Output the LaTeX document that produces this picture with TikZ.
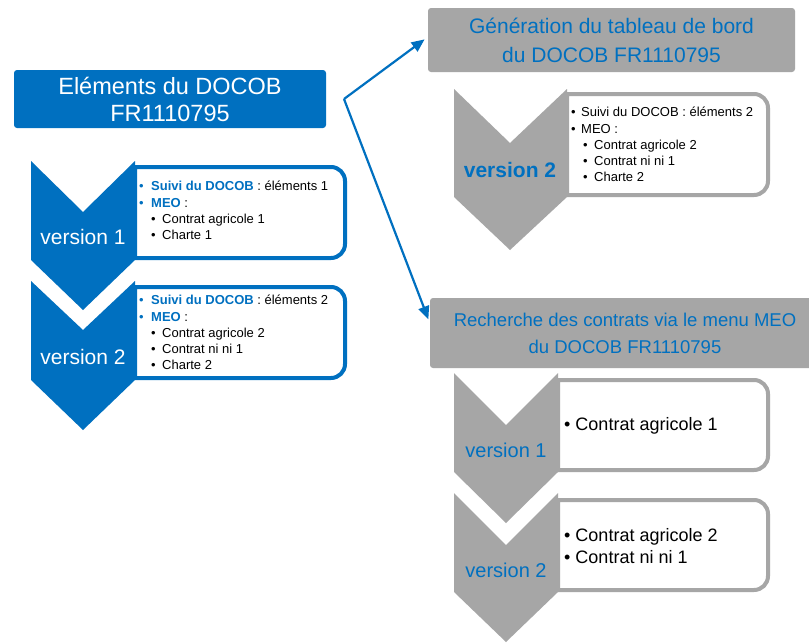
\documentclass[tikz,border=0pt]{standalone}
\usepackage{fontspec}
\setmainfont{Liberation Sans}
\usetikzlibrary{arrows.meta}
\definecolor{docblue}{HTML}{0070C0}
\definecolor{docgray}{HTML}{A6A6A6}
\newcommand{\myitemb}[1]{\makebox[12pt][l]{\textcolor{docblue}{•}}#1}
\newcommand{\myitemk}[1]{\makebox[10pt][l]{•}#1}
\newcommand{\mysubb}[1]{\hspace*{12pt}\makebox[11pt][l]{•}#1}
\newcommand{\mysubk}[1]{\hspace*{12pt}\makebox[11pt][l]{•}#1}
\begin{document}
\begin{tikzpicture}[x=1pt,y=-1pt,
  titlebox/.style={rounded corners=3pt, align=center, inner sep=0pt},
  bluetitle/.style={titlebox, fill=docblue, text=white, font=\fontsize{23.5}{27}\selectfont, minimum width=312pt, minimum height=58pt},
  graytitle/.style={titlebox, fill=docgray, text=docblue},
  listtext/.style={align=left, inner sep=0pt, font=\fontsize{13}{16.3}\selectfont},
  bigtext/.style={align=left, inner sep=0pt, font=\fontsize{18}{22.5}\selectfont},
  vwhite/.style={text=white, inner sep=0pt, font=\fontsize{21}{25}\selectfont},
  vblue/.style={text=docblue, inner sep=0pt, font=\fontsize{20}{24}\selectfont},
  bluecard/.style={draw=docblue, line width=4pt, fill=white},
  graycard/.style={draw=docgray, line width=4pt, fill=white},
  linkarrow/.style={draw=docblue, line width=2.2pt, -{Triangle[length=13pt,width=11pt]}, shorten >=4pt}
]
\clip (0,0) rectangle (809,643);
\fill[white] (0,0) rectangle (809,643);

% ---------- left column ----------
\node[bluetitle] (elem) at (170,99) {Eléments du DOCOB\\FR1110795};

\draw[bluecard] (135,167) [rounded corners=14pt] -- (345,167) -- (345,258) [sharp corners] -- (135,258) -- cycle;
\draw[bluecard] (135,287) [rounded corners=14pt] -- (345,287) -- (345,378) [sharp corners] -- (135,378) -- cycle;
\fill[docblue] (31,161) -- (83,212) -- (135,161) -- (135,260) -- (83,310) -- (31,260) -- cycle;
\fill[docblue] (31,281) -- (83,330) -- (135,281) -- (135,380) -- (83,430) -- (31,380) -- cycle;

\node[vwhite] (lv1) at (83,237) {version 1};
\node[vwhite] (lv2) at (83,357) {version 2};

\node[listtext, anchor=north west] (l1) at (139,181) {%
\myitemb{\textbf{\textcolor{docblue}{Suivi du DOCOB}} : éléments 1}\\
\myitemb{\textbf{\textcolor{docblue}{MEO}} :}\\
\mysubb{Contrat agricole 1}\\
\mysubb{Charte 1}};

\node[listtext, anchor=north west] (l2) at (139,295) {%
\myitemb{\textbf{\textcolor{docblue}{Suivi du DOCOB}} : éléments 2}\\
\myitemb{\textbf{\textcolor{docblue}{MEO}} :}\\
\mysubb{Contrat agricole 2}\\
\mysubb{Contrat ni ni 1}\\
\mysubb{Charte 2}};

% ---------- right top ----------
\node[graytitle, font=\fontsize{21}{29}\selectfont, minimum width=367pt, minimum height=64pt] (gen) at (611.5,40) {Génération du tableau de bord\\du DOCOB FR1110795};

\draw[graycard] (567,94) [rounded corners=14pt] -- (768,94) -- (768,195) [sharp corners] -- (567,195) -- cycle;
\fill[docgray] (454,89) -- (510,143) -- (567,89) -- (567,197) -- (510,250) -- (454,197) -- cycle;
\node[vblue, font=\bfseries\fontsize{21}{25}\selectfont] (rv0) at (510,170) {version 2};

\node[listtext, anchor=north west] (r0) at (571,107) {%
\myitemk{Suivi du DOCOB : éléments 2}\\
\myitemk{MEO :}\\
\mysubk{Contrat agricole 2}\\
\mysubk{Contrat ni ni 1}\\
\mysubk{Charte 2}};

% ---------- right bottom ----------
\node[graytitle, font=\fontsize{18.5}{27}\selectfont, minimum width=390pt, minimum height=70pt] (rech) at (625,333) {Recherche des contrats via le menu MEO\\du DOCOB FR1110795};

\draw[graycard] (558,380) [rounded corners=14pt] -- (768,380) -- (768,470) [sharp corners] -- (558,470) -- cycle;
\draw[graycard] (558,500) [rounded corners=14pt] -- (768,500) -- (768,590) [sharp corners] -- (558,590) -- cycle;
\fill[docgray] (454,373) -- (506,425) -- (558,373) -- (558,472) -- (506,523) -- (454,472) -- cycle;
\fill[docgray] (454,493) -- (506,545) -- (558,493) -- (558,592) -- (506,642) -- (454,592) -- cycle;

\node[vblue] (rv1) at (506,450) {version 1};
\node[vblue] (rv2) at (506,570) {version 2};

\node[bigtext, anchor=west] (r1) at (564,426) {• Contrat agricole 1};
\node[bigtext, anchor=west] (r2) at (564,546) {• Contrat agricole 2\\• Contrat ni ni 1};

% ---------- arrows ----------
\coordinate (hub) at (344,99);
\draw[linkarrow] (hub) -- ([yshift=3pt]gen.west);
\draw[linkarrow] (hub) -- ([yshift=10pt]rech.west);
\end{tikzpicture}
\end{document}
